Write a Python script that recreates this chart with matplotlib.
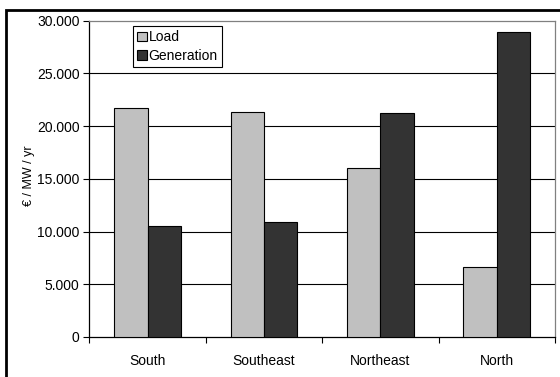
import matplotlib
matplotlib.use("Agg")
import matplotlib.pyplot as plt
from matplotlib.patches import Rectangle
from matplotlib.ticker import FixedLocator
import numpy as np

categories = ["South", "Southeast", "Northeast", "North"]
load = [21700, 21300, 16000, 6650]
generation = [10500, 10950, 21250, 28900]
yticks = [0, 5000, 10000, 15000, 20000, 25000, 30000]
ytick_labels = ["0", "5.000", "10.000", "15.000", "20.000", "25.000", "30.000"]

plt.rcParams['font.family'] = ['Liberation Sans', 'DejaVu Sans']

W, H = 560, 377
fig = plt.figure(figsize=(W / 100, H / 100), dpi=100)
ax = fig.add_axes([89.3 / W, 1 - 337 / H, (555 - 89.3) / W, (337 - 20.7) / H])

x = np.arange(len(categories))
bw = 0.286
ax.bar(x - bw / 2, load, bw, color="#C0C0C0", edgecolor="black", linewidth=0.8, label="Load", zorder=3)
ax.bar(x + bw / 2, generation, bw, color="#333333", edgecolor="black", linewidth=0.8, label="Generation", zorder=3)

ax.set_xlim(-0.5, len(categories) - 0.5)
ax.set_ylim(0, 30000)
ax.set_yticks(yticks)
ax.set_yticklabels(ytick_labels, fontsize=10)
for y in yticks[1:-1]:
    ax.axhline(y, color="black", linewidth=0.8, zorder=1)

ax.set_xticks(x)
ax.set_xticklabels(categories, fontsize=10)
ax.tick_params(axis='x', length=0, pad=12)
ax.xaxis.set_minor_locator(FixedLocator(np.arange(-0.5, len(categories) + 0.5, 1.0)))
ax.tick_params(axis='x', which='minor', length=4, width=0.8, direction='out')
ax.tick_params(axis='y', length=4, width=0.8, direction='out', pad=3)

ax.spines['left'].set_color('black')
ax.spines['bottom'].set_color('black')
ax.spines['top'].set_color('#808080')
ax.spines['right'].set_color('#808080')
for s in ax.spines.values():
    s.set_linewidth(0.9)

ax.set_ylabel("€ / MW / yr", fontsize=9)
ax.yaxis.set_label_coords((35 - 89.3) / (555 - 89.3), (337 - 176) / (337 - 20.7))

leg = ax.legend(loc='upper left', bbox_to_anchor=((132.7 - 89.3) / (555 - 89.3), 1 - (26.2 - 20.7) / (337 - 20.7)),
                fontsize=10, frameon=True, fancybox=False, edgecolor='black', framealpha=1,
                handlelength=0.7, handleheight=0.7, handletextpad=0.15, borderpad=0.3,
                labelspacing=0.3, borderaxespad=0)
leg.get_frame().set_linewidth(0.8)

# outer frame (top and left edges visible)
fig.patches.append(Rectangle((5.5 / W, -0.1), 1.2, 1 - 10 / H + 0.1, transform=fig.transFigure,
                             fill=False, edgecolor='black', linewidth=2, zorder=10))

fig.savefig("out.png", dpi=100)
